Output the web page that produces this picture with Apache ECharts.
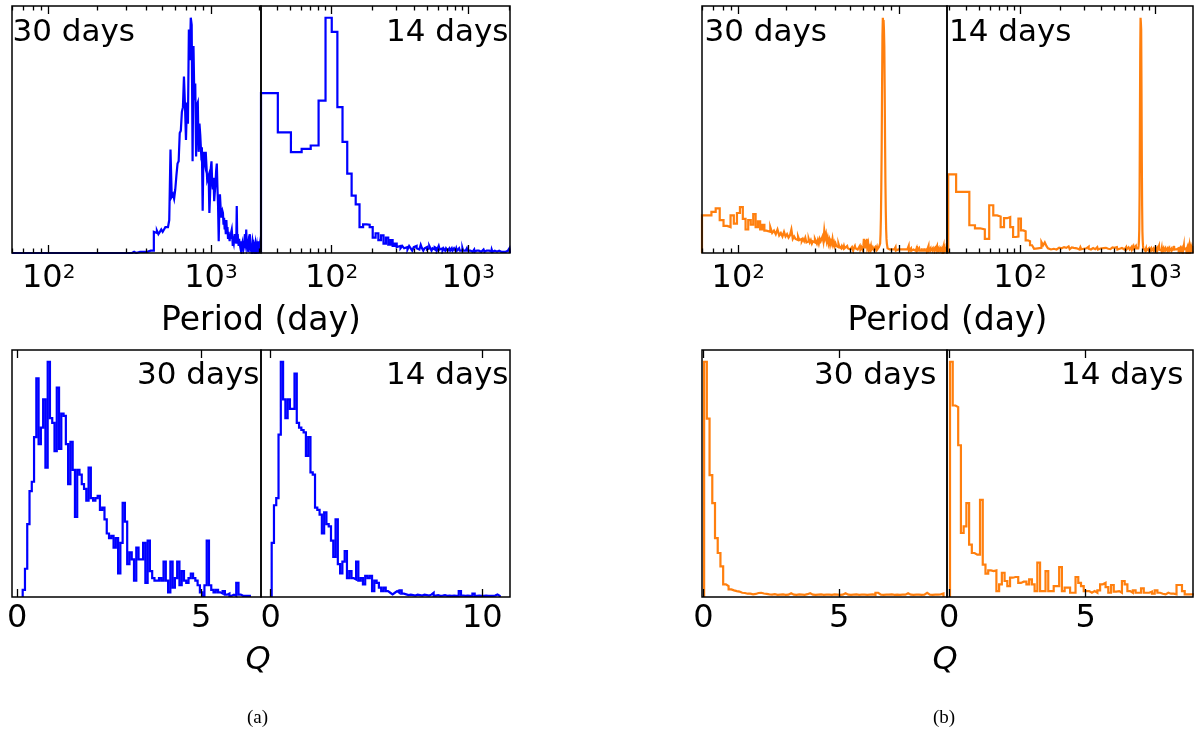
<!DOCTYPE html>
<html>
<head>
<meta charset="utf-8">
<script src="https://cdn.jsdelivr.net/npm/echarts/dist/echarts.min.js"></script>
<style>
html, body { margin: 0; padding: 0; background: #fff; }
#chart { width: 1194px; height: 735px; }
</style>
</head>
<body>
<div id="chart"></div>
<script>
// ---------------- data ----------------
// Period histograms: x-axis range, first/last bin edge, counts per bin (linear bins in days)
const aPeriod30Axis = [59.4, 2036];
const aPeriod30Edges = [59.4, 2036];
const aPeriod30Counts = [
  0,0,0,0,0,0,0,0,0,0, 0,0,0,0,0,0,0,0,0,0, 0,0,0,0,0,0,0,
  0.5,0,0.5,0.5,0,0.5,1,0.5,1,1,1.5,1,
  9,8.5,9.5,8,9,10,9,10,11,11,
  11,14,44,
  24,25,23,27,33,38,39,
  51,52,60,62,75,
  63,48,64,55,95,82,100,97,
  39,88,65,72,41,63,64,43,55,50,43,45,
  18,43,40,38,43,43,31,31,33,
  17,25,36,39,30,27,32,22,22,30,35,38,
  28,20,5,18,25,25,15,17,18,17,12,15,10,12,8,14,
  9,11,6,9,7,5,8,6,9,10,7,3,5,4,6,8,5,7,4,20,
  6,8,5,3,6,4,3,5,2,0.5,3,4,2,5,2,3,6,8,4,3,
  10,5,3,6,2,0.5,4,3,5,8,3,2,4,2,1,3,5,4,2,3,
  2,1,3,4,2,1,2,3,1,2,1,5,2,1,2,3,1,3,2
];

const aPeriod14Axis = [30.4, 2026];
const aPeriod14Edges = [30.4, 2026];
const aPeriod14Counts = [
  68,51.3,42.9,44.3,45.7,64.8,100,94,62,47.2,33.7,24.4,20.7,
  11,12.2,12,11,6.5,8.4,5.5,7.5,4,6.5,3.5,5.5,3,4,2.5,3,2,
  3,2,2.5,1.5,3,2,1,2.5,3,2, 1.5,2,3.5,2,1,2,2.5,1.5,2,3,
  2,1,2,1.5,2.5,2,1,2,3,1.5,
  1.5,2,1,2,1.5,1,2,2.5,1,1.5, 2,1,1.5,2,1,1,2,1.5,1,2,
  1,1.5,1,2,1,1.5,1,1,2,1, 1.5,1,1,1.5,1,2,1,1,1.5,1,
  1,0.5,1,1.5,1,0.5,1,1,1.5,0.5, 1,1,0.5,1,1.5,1,0.5,1,1,0.5,
  1.5,1,0.5,1,1,0.5,1,1.5,1,0.5, 1,0.5,1,1,0.5,1,1.5,0.5,1,1,
  0.5,1,1,0.5,1,0.5,1.5,1,0.5,1, 1,0.5,1,0.5,1,1,0.5,1,0.5,1,
  0.5,1,1,0.5,1,0.5,1,0.5,1,1, 0.5,1,0.5,1,0.5,1,1,0.5,1,0.5,
  1,0.5,1,0.5,0.5,1,0.5,1,0.5,1, 0.5,1,0.5,1,0.5,1,1.5,1,2,1.5
];

const bPeriod30Axis = [59.4, 1992];
const bPeriod30Edges = [59.4, 1992];
const bPeriod30Counts = [
  16,16,17.5,19,14,11.5,11,16,12.5,
  17,19.5,14.5,10,14,12,16.5,11,13.5,10,12,9.5,
  10,9,11,8.5,9.5,8,10,7.5,8.5,7,9,7,
  8,6.5,7.5,10,6,7,6,5.5,7,5.5,6,5,
  6,5,6.5,4.5,5,6,4.5,5.5,4,5,4.5,6,
  5,4,5.5,4,6,5,4.5,7,5,9.5,6.5,
  8,5,6.5,4,5.5,3.5,5,4,6,3.5,4.5,3,
  4,3,3.5,2.5,4,3,2.5,3.5,2,3,2.5,
  2,3,2,2.5,1.5,2,3,2,1.5,2.5,2,1.5,
  2,1.5,2.5,2,1,2,1.5,3,2,1.5, 2,2.5,1.5,2,1,2,3,1.5,2,2.5, 2,1.5,2,
  3,6,2,2.5,5.5,2,1.5,6,2.5,2, 4,1.5,2,2.5,1.5,2,3,1.5,2,1.5, 2.5,2,1.5,2,
  2,1.5,2.5,2,1.5,2,2.5,1.5,2,1.5,2,2.5,3,
  2,4,8,15,28,45,70,92,100,98, 99,95,88,70,48,30,18,10,6,4, 3,2,1.5,2,1.5,1.5,
  1.5,1,1.5,2,1,1.5,1,1,1.5,1, 2,1,1.5,1,1,1.5,1,1.5,1,2.5, 1,1,1.5,1,1,1.5,1,1,1.5,1, 1,
  1,1.5,1,1,1.5,1,2,1,1,1.5,
  1,1,1.5,1,1,2,1,1.5,1,1,
  1.5,1,1,1.5,1,1,2,1,1,1.5,
  1,1,1.5,2,3,1,1,1.5,1,1,
  1.5,1,1,2,1,1,1.5,1,1,1,
  1.5,1,1,1.5,1,2,1,1,1.5,1,
  1,1.5,1,1,1,1.5,2,1,3,1,
  1,1.5,1,1,1.5,1,1,2,1,1,
  1.5,1,1,1,1.5,1,1,1.5,1,2,
  1,1,1.5,1,1,1,1.5,1,1,1.5,
  1,2,1,1,1.5,1,1,1,1.5,1,
  1,1.5,1,2,1,1,1.5,1,1,1,
  1.5,1,3,1,1,1.5,1,1,1,1.5,
  1,1,2,1,1,1.5,1,1,1,1.5,
  1,1,1.5,1,2,1,1,1.5,1,1,
  1,1.5,1,1,1,2,1,1,1.5,1,
  1,1,1.5,1,1,1,1.5,1,3,1,
  1,1.5,1,1,1,1.5,1,2,1,1,
  1.5,1,1,1,1.5,1,1,1,2,1,
  1,1.5,1,1,1,1.5,1,1,1,2,
  1,1,1.5,1,1,1,1.5,1,3,1,
  1,1.5,1,1,2,1,1,1.5,1,1,
  1,1.5,1,1,2,1,1,1.5,1,1
];

const bPeriod14Axis = [28.8, 1912];
const bPeriod14Edges = [29.4, 1912.15];
const bPeriod14Counts = [
  33.4,26,26,11.8,10.5,10,6,20.3,16,15.5,
  11,14.8,15.3,11,6.8,7,14.6,9.6,9.2,5.4,
  5,3.3,3.5,1.8,2,1.5,2.2,4.7,3.3,4.5,
  3,2,1.5,2.2,1.8,2.5,1.5,2,2.3,1.8,
  2,1.5,2.5,1.8,2.2,1.5,2.8,2,1.6,2.4,
  1.8,2.2,1.5,2.6,2,1.7,2.3,1.5,2,2.5,
  1.6,2.1,1.8,2.4,1.5,2,2.2,1.6,2.7,1.8,
  2,1.5,2.3,1.8,2.1,1.5,2.4,1.9,1.6,2.2,
  1.8,2.5,1.5,2,2.2,1.6,1.9,2.4,1.5,2,
  2.1,1.6,2.3,1.8,1.5,2.2,2,1.6,2.5,1.8,
  1.5,2,2.3,1.7,2.1,1.5,1.9,2.4,1.6,2,
  2.2,1.5,1.8,2.3,1.6,2,2.5,1.5,1.9,2.1,
  1.6,2.2,1.8,1.5,2.4,1.9,1.6,2.1,1.5,2,
  2.3,1.7,1.5,2,2.2,1.6,1.8,2.5,1.5,2,
  1.8,2.1,1.5,2.4,1.7,2,1.5,2.2,1.9,1.6,
  2,2.6,1.5,1.8,2.2,1.6,2.8,1.9,1.5,2.3,
  1.7,2.4,1.8,3,2,1.6,2.5,1.8,2.2,2.6,
  2,3,5,10,25,55,85,100,98,95, 70,40,20,9,5,3,2,1.5,2,1.5, 1.5,
  1.5,1,1.5,1,2,1,1.5,1,1,1.5,
  1,1.5,1,1,2,1,1,1.5,1,1,
  1.5,1,2,1,1,1.5,1,1,1.5,1,
  1,2,1,1.5,1,1,1.5,1,1,2,
  1,1.5,1,1,1.5,1,2,1,1,1.5,
  1,1,1.5,1,3,1.5,1,1,2,1,
  1.5,1,1,1.5,1,1,2,1,1.5,1,
  1,1.5,1,2,1,1,1.5,1,1,1.5,
  1,1,2,1,1.5,1,1,1.5,1,1,
  1.5,1,1,2,1,1,1.5,1,1,1,
  1.5,1,2,1,1,1.5,1,1,1,1.5,
  1,1,1.5,1,2,1,1,1,1.5,1,
  1,1.5,1,1,1,2,1,1,3,1.5,
  1,1,1.5,1,1,2,1,1,1.5,1,
  1,1.5,1,1,2,1,1,1.5,1,1,
  1,1.5,1,2,1,1,1.5,1,1,1,
  1.5,1,1,2,1,1.5,1,1,1,1.5,
  1,1,2,1,1,1.5,1,1,1.5,1,
  1,2,1,1.5,1,1,1,3,1.5,1,
  1,1.5,1,1,2,1,1,1.5,1,1,
  1.5,1,1,2,1,1,1.5,1,1,2,
  1,1,1.5,1,1,2,1,1.5,1,1,
  1.5,1,1,3,1,1.5,1,1,2,1,
  1,1.5,1,1,2,1,1.5,1,1,1.5,
  1,2,1,1,1.5,1,3,1,1.5,1,
  1.5,1
];

// Q histograms
const aQ30Axis = [-0.144, 6.63];
const aQ30Edges = [0.147, 6.327];
const aQ30Counts = [
  3,12,31,45,49,68,93,65,72,84,
  55,100,76,74,62,89,63,78,77,65,
  48,66,54,34,54,52,48,46,41,55,
  42,41,42,43,37,38,33,27,25,26,
  21,25,10,23,40,32,14,19,16,7,
  21,16,16,23,6,24,11,8,7,7,
  8,7,15,7,2,15,4,8,15,5,
  11,7,6,8,10,8,7,5,2,0.5,
  5,24,5,3,2,3,2,1.5,2.5,1,
  1.5,0.5,1,0.5,6,1,0.5,0.5,0.5,0.5
];

const aQ14Axis = [-0.458, 11.31];
const aQ14Edges = [0.047, 10.827];
const aQ14Counts = [
  23,39,42,69,100,84,76,84,80,80,
  95,74,72,71,70,60,68,53,52,38,
  37,35,27,36,31,30,24,17,33,14,
  10,15,19.5,8,11,8,7.5,15,7,8,
  5.4,9,8,9,2.5,7,6,4,2.5,4,
  2.5,1.8,1.1,1.8,2.5,1.8,2.8,1.4,1.1,0.8,
  1,0.8,0.6,1,0.8,0.6,1,0.8,0.6,1,
  1.8,0.6,0.8,0.5,0.6,0.8,0.5,0.6,0.5,0.6,
  0.5,0.5,2.5,0.6,0.5,0.6,0.5,0.5,1.4,0.5,
  0.6,0.5,0.5,0.6,0.5,0.5,0.5,0.6,1.1,0.5
];

const bQ30Axis = [-0.048, 8.96];
const bQ30Edges = [0.03, 8.83];
const bQ30Counts = [
  100,75.8,51.8,39.9,25,18.7,13,5.4,4.6,3.2,
  2.8,2.5,2.3,1.8,1.7,1.4,1.4,1.1,1.3,1.7,
  1.8,1.5,1.3,1.1,1,1.2,0.9,1,1.1,0.9,
  1,1.6,1,0.9,1.1,1,0.9,1.2,1.6,1,
  0.9,1,1.1,0.9,1,1,0.9,1.1,1,0.9,
  1,1.6,1,0.9,1,1.1,0.9,1,1,0.9,
  1,1.1,0.9,1.8,1,0.9,1,1,1.1,0.9,
  1,0.9,1,1,1.6,1,0.9,1,1,0.9,
  1,1.8,1,0.9,1,1,1.1,1.5
];

const bQ14Axis = [-0.084, 8.93];
const bQ14Edges = [0.026, 9.026];
const bQ14Counts = [
  100,81.4,80.7,64.5,27.2,30,39.9,22.3,18.7,18,
  18,41.3,13.8,9.9,11.3,11,11.3,2.5,5.4,10.3,
  6.8,4.6,8.2,8.5,8.5,6,6.5,6.5,5.4,7.5,
  5.4,2.5,14.6,2.5,2.5,11,2.5,2.5,4.6,4.6,
  12.7,2.5,4,4,1.8,1.8,8.5,6,4.6,2.5,
  2.5,1.8,2.5,1.8,2.8,5.4,6,4.2,1.8,5.1,
  2.3,2.5,1.8,6.8,5.4,2.5,1.8,2.8,1.8,1.8,
  3.7,1.8,1.8,2.3,1.4,2.8,1.8,1.4,1.1,1.8,
  1.4,1.4,1.1,5.1,5.1,2.5,1.1,1.1,1.1,1.1
];

// Axis ticks and labels
const periodTicks = [100, 1000];
const periodTickBase = ['10', '10'];
const periodTickExp = ['2', '3'];
const periodMinorTicks = [30, 40, 50, 60, 70, 80, 90, 200, 300, 400, 500, 600, 700, 800, 900, 2000];
const aQ30Ticks = [0, 5];
const aQ14Ticks = [0, 10];
const bQ30Ticks = [0, 5];
const bQ14Ticks = [0, 5];

const windowLabels = ['30 days', '14 days'];
const periodName = 'Period (day)';
const qName = 'Q';
const subCaptions = ['(a)', '(b)'];

// ---------------- drawing ----------------
const BLUE = '#0000ff';
const ORANGE = '#ff7f0e';
const SANS = '"DejaVu Sans", sans-serif';
const TICK_SIZE = 32;
const CAPTION_SIZE = 31;

// outline of a step histogram: rise at first edge, flat tops, drop at last edge
function stepOutline(edges, counts) {
  const n = counts.length;
  const w = (edges[1] - edges[0]) / n;
  const pts = [[edges[0], 0]];
  for (let i = 0; i < n; i++) {
    const lo = edges[0] + i * w;
    pts.push([lo, counts[i]], [lo + w, counts[i]]);
  }
  pts.push([edges[1], 0]);
  return pts;
}

// power-of-ten tick label as rich text with a raised exponent
function periodLabel(v) {
  for (let k = 0; k < periodTicks.length; k++) {
    const t = periodTicks[k];
    if (Math.abs(Math.log10(v / t)) < 0.01 || Math.abs(v - Math.log10(t)) < 1e-6) {
      return '{b|' + periodTickBase[k] + '}{s|' + periodTickExp[k] + '}';
    }
  }
  return '';
}

const panels = [
  { box: [12, 6, 249, 247],  axis: aPeriod30Axis, edges: aPeriod30Edges, counts: aPeriod30Counts, color: BLUE,   log: true },
  { box: [261, 6, 249, 247], axis: aPeriod14Axis, edges: aPeriod14Edges, counts: aPeriod14Counts, color: BLUE,   log: true },
  { box: [702, 6, 245, 247], axis: bPeriod30Axis, edges: bPeriod30Edges, counts: bPeriod30Counts, color: ORANGE, log: true },
  { box: [947, 6, 246, 247], axis: bPeriod14Axis, edges: bPeriod14Edges, counts: bPeriod14Counts, color: ORANGE, log: true },
  { box: [12, 350, 249, 247],  axis: aQ30Axis, edges: aQ30Edges, counts: aQ30Counts, color: BLUE,   log: false, ticks: aQ30Ticks },
  { box: [261, 350, 249, 247], axis: aQ14Axis, edges: aQ14Edges, counts: aQ14Counts, color: BLUE,   log: false, ticks: aQ14Ticks },
  { box: [702, 350, 245, 247], axis: bQ30Axis, edges: bQ30Edges, counts: bQ30Counts, color: ORANGE, log: false, ticks: bQ30Ticks },
  { box: [947, 350, 246, 247], axis: bQ14Axis, edges: bQ14Edges, counts: bQ14Counts, color: ORANGE, log: false, ticks: bQ14Ticks }
];

function tickStyle(values, len) {
  return { show: true, inside: true, length: len, customValues: values,
           lineStyle: { color: '#000', width: 1.3 } };
}

const grids = [], xAxes = [], yAxes = [], series = [], graphics = [];

panels.forEach((p, gi) => {
  const [left, top, width, height] = p.box;
  grids.push({ left, top, width, height, show: false, containLabel: false, outerBoundsMode: 'none' });

  const peak = Math.max.apply(null, p.counts);
  yAxes.push({ type: 'value', gridIndex: gi, min: 0, max: peak * 1.05, show: false });

  const major = p.log ? periodTicks : p.ticks;
  const base = {
    type: p.log ? 'log' : 'value',
    gridIndex: gi,
    min: p.axis[0], max: p.axis[1],
    z: 20,
    axisLine: { show: false, onZero: false },
    splitLine: { show: false },
    minorTick: { show: false }
  };
  if (p.log) base.logBase = 10;

  const labelStyle = p.log
    ? {
        show: true, customValues: major, formatter: periodLabel, margin: 10,
        rich: {
          b: { fontFamily: SANS, fontSize: TICK_SIZE, color: '#000' },
          s: { fontFamily: SANS, fontSize: 20, color: '#000', verticalAlign: 'top' }
        }
      }
    : {
        show: true, customValues: major, formatter: (v) => String(v), margin: 6,
        fontFamily: SANS, fontSize: TICK_SIZE, color: '#000'
      };

  const mainIndex = xAxes.length;
  xAxes.push(Object.assign({}, base, { position: 'bottom', axisTick: tickStyle(major, 8), axisLabel: labelStyle }));
  xAxes.push(Object.assign({}, base, { position: 'top', axisTick: tickStyle(major, 8), axisLabel: { show: false } }));
  if (p.log) {
    const minor = periodMinorTicks.filter(v => v > p.axis[0] && v < p.axis[1]);
    xAxes.push(Object.assign({}, base, { position: 'bottom', axisTick: tickStyle(minor, 4.5), axisLabel: { show: false } }));
    xAxes.push(Object.assign({}, base, { position: 'top', axisTick: tickStyle(minor, 4.5), axisLabel: { show: false } }));
  }

  series.push({
    type: 'line',
    xAxisIndex: mainIndex,
    yAxisIndex: gi,
    data: stepOutline(p.edges, p.counts),
    symbol: 'none',
    showSymbol: false,
    clip: true,
    silent: true,
    animation: false,
    lineStyle: { color: p.color, width: 2.2, join: 'miter' },
    itemStyle: { color: p.color },
    z: 5
  });

  graphics.push({
    type: 'rect', z: 100, silent: true,
    shape: { x: left, y: top, width, height },
    style: { fill: 'none', stroke: '#000', lineWidth: 1.5 }
  });
});

function label(text, x, y, align, font) {
  return {
    type: 'text', x, y, z: 110, silent: true,
    style: { text, fill: '#000', font: font || (CAPTION_SIZE + 'px ' + SANS),
             align, verticalAlign: 'middle', textAlign: align, textVerticalAlign: 'middle' }
  };
}

// panel captions
graphics.push(label(windowLabels[0], 12.5, 33, 'left'));
graphics.push(label(windowLabels[1], 508.5, 33, 'right'));
graphics.push(label(windowLabels[0], 704.5, 33, 'left'));
graphics.push(label(windowLabels[1], 949, 33, 'left'));
graphics.push(label(windowLabels[0], 259.5, 376, 'right'));
graphics.push(label(windowLabels[1], 508.5, 376, 'right'));
graphics.push(label(windowLabels[0], 936.5, 376, 'right'));
graphics.push(label(windowLabels[1], 1183.5, 376, 'right'));

// axis titles shared by each pair of panels
graphics.push(label(periodName, 261, 321, 'center', '33px ' + SANS));
graphics.push(label(periodName, 947.5, 321, 'center', '33px ' + SANS));
graphics.push(label(qName, 258, 661, 'center', 'italic ' + TICK_SIZE + 'px ' + SANS));
graphics.push(label(qName, 945, 661, 'center', 'italic ' + TICK_SIZE + 'px ' + SANS));

// sub-figure captions
graphics.push(label(subCaptions[0], 257.5, 718, 'center', '19px "Liberation Serif", "DejaVu Serif", serif'));
graphics.push(label(subCaptions[1], 944, 718, 'center', '19px "Liberation Serif", "DejaVu Serif", serif'));

const chart = echarts.init(document.getElementById('chart'), null, { renderer: 'canvas' });
chart.setOption({
  backgroundColor: '#fff',
  animation: false,
  grid: grids,
  xAxis: xAxes,
  yAxis: yAxes,
  series: series,
  graphic: graphics
});
</script>
</body>
</html>
